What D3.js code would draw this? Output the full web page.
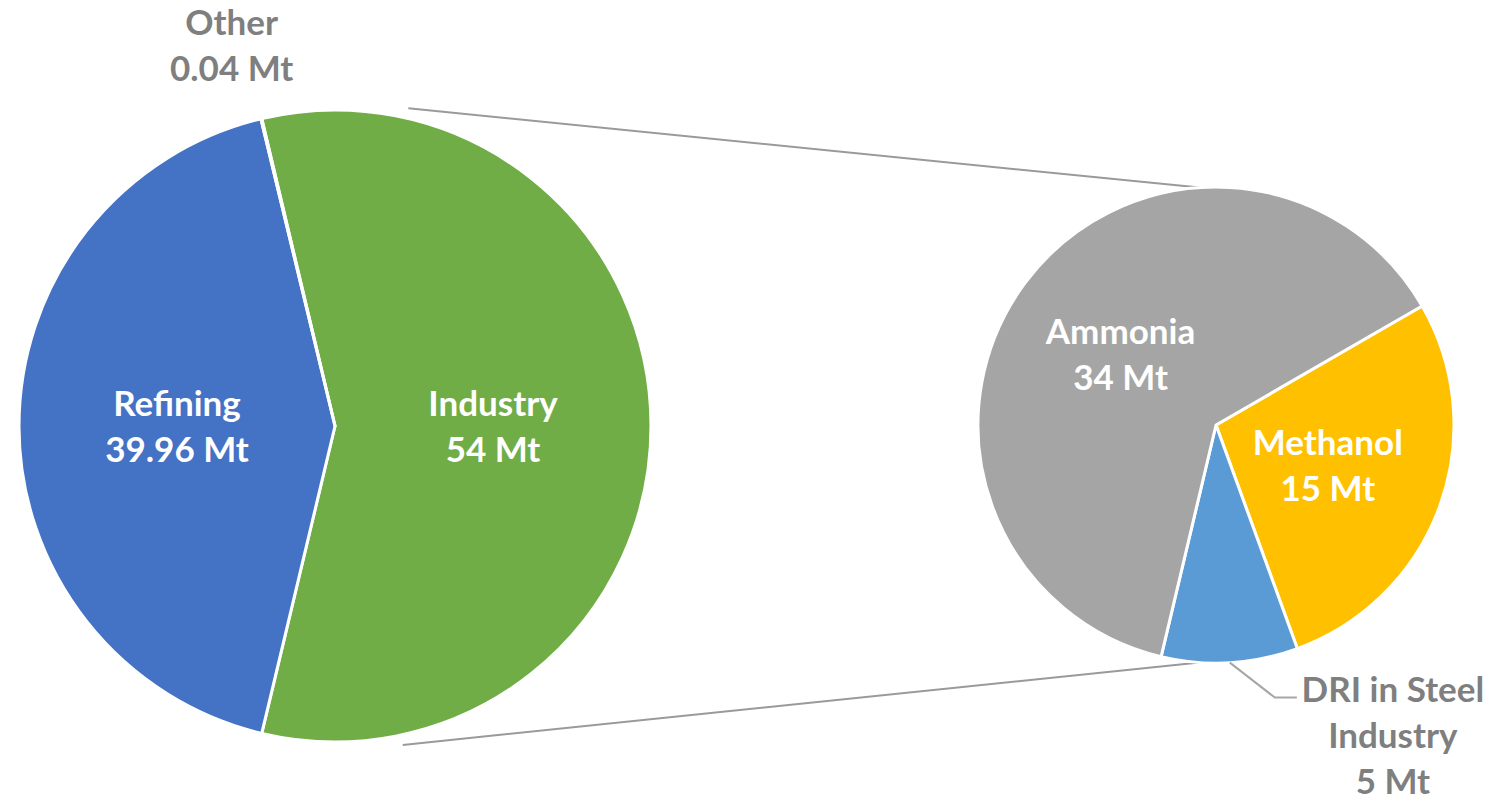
<!DOCTYPE html>
<html>
<head>
<meta charset="utf-8">
<script src="https://cdn.jsdelivr.net/npm/d3@7"></script>
<style>
  html, body { margin: 0; padding: 0; background: #fff; }
  svg { display: block; }
  text { font-family: Lato, "Open Sans", sans-serif; font-weight: 700; }
</style>
</head>
<body>
<svg id="chart" width="1493" height="802"></svg>
<script>
// Hydrogen demand by end use (Mt)
const mainCategories = ["Industry", "Refining", "Other"];
const mainValues = [54, 39.96, 0.04];
const mainLabelLines = [["Industry", "54 Mt"], ["Refining", "39.96 Mt"], ["Other", "0.04 Mt"]];

// Breakdown of the Industry share
const subCategories = ["Methanol", "DRI in Steel Industry", "Ammonia"];
const subValues = [15, 5, 34];
const subLabelLines = [["Methanol", "15 Mt"], ["DRI in Steel", "Industry", "5 Mt"], ["Ammonia", "34 Mt"]];

const mainColors = ["#70AD47", "#4472C4", "#A5A5A5"];
const subColors = ["#FFC000", "#5B9BD5", "#A5A5A5"];

const svg = d3.select("#chart");
const deg = Math.PI / 180;
const fontSize = 35;
const lineGap = 46;

// layout
const main = { cx: 335, cy: 426, r: 316 };
const sub = { cx: 1216, cy: 425, r: 238 };

// the expanded slice (Industry) is centred on the right-hand side of the main pie
const mainTotal = d3.sum(mainValues);
const mainStart = Math.PI / 2 - Math.PI * mainValues[0] / mainTotal;
const mainPie = d3.pie().sort(null).startAngle(mainStart).endAngle(mainStart + 2 * Math.PI);
const subStart = 60 * deg;
const subPie = d3.pie().sort(null).startAngle(subStart).endAngle(subStart + 2 * Math.PI);

const mainArcs = mainPie(mainValues);
const subArcs = subPie(subValues);

const mainArc = d3.arc().innerRadius(0).outerRadius(main.r);
const subArc = d3.arc().innerRadius(0).outerRadius(sub.r);

const polar = (c, radius, a) => [c.cx + radius * Math.sin(a), c.cy - radius * Math.cos(a)];

// connector lines between the Industry slice and the breakdown pie
const ind = mainArcs[0];
const connectors = [
  [polar(main, main.r + 10, ind.startAngle + 26.4 * deg), polar(sub, sub.r, -4 * deg)],
  [polar(main, main.r + 10, ind.endAngle - 25.4 * deg), polar(sub, sub.r, 184 * deg)]
];
svg.append("g").selectAll("line").data(connectors).join("line")
  .attr("x1", d => d[0][0]).attr("y1", d => d[0][1])
  .attr("x2", d => d[1][0]).attr("y2", d => d[1][1])
  .attr("stroke", "#9a9a9a").attr("stroke-width", 2);

// main pie
const gMain = svg.append("g").attr("transform", `translate(${main.cx},${main.cy})`);
gMain.selectAll("path").data(mainArcs).join("path")
  .attr("d", mainArc)
  .attr("fill", (d, i) => mainColors[i])
  .attr("stroke", "#fff").attr("stroke-width", 3).attr("stroke-linejoin", "round");

// breakdown pie
const gSub = svg.append("g").attr("transform", `translate(${sub.cx},${sub.cy})`);
gSub.selectAll("path").data(subArcs).join("path")
  .attr("d", subArc)
  .attr("fill", (d, i) => subColors[i])
  .attr("stroke", "#fff").attr("stroke-width", 3).attr("stroke-linejoin", "round");

function drawLabel(g, lines, x, y, color) {
  const t = g.append("text")
    .attr("text-anchor", "middle")
    .attr("fill", color)
    .attr("font-size", fontSize);
  const first = y - (lines.length - 1) * lineGap / 2;
  lines.forEach((ln, k) => {
    t.append("tspan").attr("x", x).attr("y", first + k * lineGap)
      .attr("dy", "0.36em").text(ln);
  });
}

const labels = svg.append("g");

// inside labels at the slice centroids
[0, 1].forEach(i => {
  const [x, y] = mainArc.centroid(mainArcs[i]);
  drawLabel(labels, mainLabelLines[i], main.cx + x, main.cy + y, "#fff");
});
[0, 2].forEach(i => {
  const [x, y] = subArc.centroid(subArcs[i]);
  drawLabel(labels, subLabelLines[i], sub.cx + x, sub.cy + y, "#fff");
});

// "Other" sits outside, above its sliver
{
  const a = (mainArcs[2].startAngle + mainArcs[2].endAngle) / 2;
  const [x, y] = polar(main, main.r * 1.24, a);
  drawLabel(labels, mainLabelLines[2], x - 12, y, "#7f7f7f");
}

// DRI label with leader line
{
  const d = subArcs[1];
  const a = (d.startAngle + d.endAngle) / 2;
  const p0 = polar(sub, sub.r, a);
  const elbow = [p0[0] + 45, p0[1] + 35];
  const p2 = [elbow[0] + 22, elbow[1]];
  svg.append("path")
    .attr("d", d3.line()([p0, elbow, p2]))
    .attr("fill", "none").attr("stroke", "#a6a6a6").attr("stroke-width", 2);
  drawLabel(labels, subLabelLines[1], p2[0] + 96, p2[1] + 38, "#7f7f7f");
}
</script>
</body>
</html>
